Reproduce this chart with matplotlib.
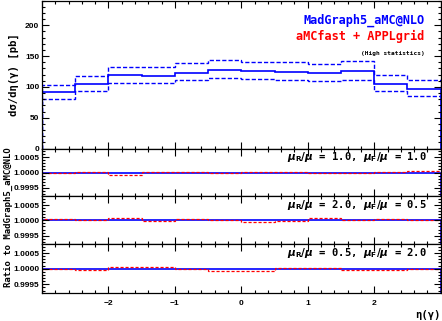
import matplotlib
matplotlib.use("Agg")
import matplotlib.pyplot as plt
import numpy as np
from matplotlib.ticker import MultipleLocator, FormatStrFormatter

# eta(gamma) bins
edges = [-3.0, -2.5, -2.0, -1.5, -1.0, -0.5, 0.0, 0.5, 1.0, 1.5, 2.0, 2.5, 3.0]

# d sigma / d eta [pb]
central = [91, 105, 119, 118, 123, 127, 126, 125, 122, 125.5, 105, 97]
upper = [103, 117, 133, 132.5, 138.5, 143, 141, 140, 137, 142, 119, 111]
lower = [80.5, 93, 106.5, 107, 111, 114, 113, 112, 109, 112, 93.5, 85]

# aMCfast / MadGraph5_aMC@NLO ratio - 1 (in units of 1e-5)
ratio_11 = [-1, 2, -7, 2, 2, -3, 2, 3, 0, 0, 2, 4]
ratio_25 = [3, 1, 6, -2, 4, 1, -4, -2, 7, 0, 4, 1]
ratio_52 = [0, -3, 4, 4, -2, -6, -7, 3, 3, -3, -3, 0]
scale_labels = [r"$\mu_\mathbf{R}/\mu$ = 1.0, $\mu_\mathbf{F}/\mu$ = 1.0",
                r"$\mu_\mathbf{R}/\mu$ = 2.0, $\mu_\mathbf{F}/\mu$ = 0.5",
                r"$\mu_\mathbf{R}/\mu$ = 0.5, $\mu_\mathbf{F}/\mu$ = 2.0"]

plt.rcParams["font.family"] = "Liberation Sans"
plt.rcParams["font.weight"] = "bold"
plt.rcParams["mathtext.fontset"] = "dejavusans"

mono = "DejaVu Sans Mono"

fig = plt.figure(figsize=(4.42, 3.21), dpi=100)
gs = fig.add_gridspec(4, 1, height_ratios=[148.5, 48, 48, 49], hspace=0,
                      left=0.095, right=0.997, top=0.998, bottom=0.087)
axes = [fig.add_subplot(gs[i]) for i in range(4)]

def style(ax):
    ax.set_xlim(-3, 3)
    ax.xaxis.set_major_locator(MultipleLocator(1))
    ax.xaxis.set_minor_locator(MultipleLocator(0.2))
    ax.tick_params(which="both", direction="in", top=True, right=True,
                   labelsize=6, width=0.8, pad=2)
    ax.tick_params(axis="x", pad=5)
    ax.tick_params(which="major", length=5)
    ax.tick_params(which="minor", length=2.5)
    for s in ax.spines.values():
        s.set_linewidth(0.9)
    for lab in ax.get_xticklabels() + ax.get_yticklabels():
        lab.set_fontweight("bold")

ax = axes[0]
ax.stairs(central, edges, color="blue", lw=1.2)
ax.stairs(upper, edges, color="blue", lw=1.0, ls=(0, (3, 1.5)))
ax.stairs(lower, edges, color="blue", lw=1.0, ls=(0, (3, 1.5)))
ax.set_ylim(0, 240)
ax.yaxis.set_major_locator(MultipleLocator(50))
ax.yaxis.set_minor_locator(MultipleLocator(10))
style(ax)
ax.set_xticklabels([])
ax.set_ylabel("dσ/dη(γ) [pb]", family=mono, fontsize=7.6, fontweight="bold", labelpad=4)
ax.text(0.96, 0.865, "MadGraph5_aMC@NLO", color="blue", family=mono, fontsize=8.6,
        fontweight="bold", ha="right", va="center", transform=ax.transAxes)
ax.text(0.96, 0.757, "aMCfast + APPLgrid", color="red", family=mono, fontsize=8.6,
        fontweight="bold", ha="right", va="center", transform=ax.transAxes)
ax.text(0.96, 0.643, "(High statistics)", color="black", family=mono, fontsize=4.4,
        fontweight="bold", ha="right", va="center", transform=ax.transAxes)

for ax, r, lab in zip(axes[1:], [ratio_11, ratio_25, ratio_52], scale_labels):
    vals = 1 + np.array(r) * 1e-5
    ax.stairs(np.ones(len(r)), edges, color="blue", lw=1.2)
    ax.stairs(vals, edges, color="red", lw=0.9, ls=(0, (2.5, 1.5)))
    ax.set_ylim(0.99922, 1.00078)
    ax.yaxis.set_major_locator(MultipleLocator(0.0005))
    ax.yaxis.set_minor_locator(MultipleLocator(0.0001))
    ax.yaxis.set_major_formatter(FormatStrFormatter("%.4f"))
    style(ax)
    ax.text(0.965, 0.82, lab, family=mono, fontsize=7.6, fontweight="bold",
            ha="right", va="center", transform=ax.transAxes)
    if ax is not axes[-1]:
        ax.set_xticklabels([])

axes[-1].set_xticks([-2, -1, 0, 1, 2])
axes[-1].set_xticklabels(["−2", "−1", "0", "1", "2"], fontweight="bold")
fig.text(0.997, 0.02, "η(γ)", family=mono, fontsize=7.6, fontweight="bold",
         ha="right", va="center")
fig.text(0.018, 0.325, "Ratio to MadGraph5_aMC@NLO", family=mono, fontsize=6.5,
         fontweight="bold", rotation=90, ha="center", va="center")

fig.savefig("out.png", dpi=100)
